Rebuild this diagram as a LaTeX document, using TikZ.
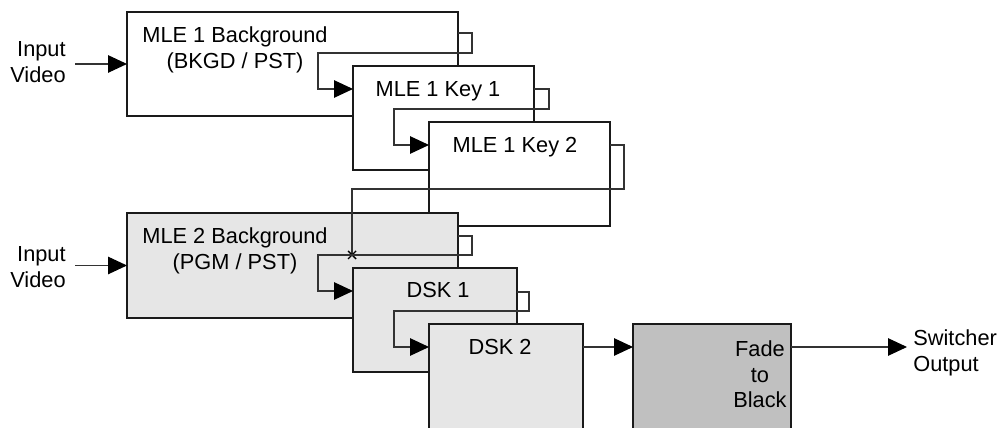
\documentclass[tikz,border=0pt]{standalone}
\usepackage{fontspec}
\setmainfont{Liberation Sans}
\usetikzlibrary{arrows.meta,calc}
\definecolor{boxline}{HTML}{1A1A1A}
\definecolor{wireline}{HTML}{333333}
\definecolor{lightfill}{HTML}{E6E6E6}
\definecolor{darkfill}{HTML}{C0C0C0}
\begin{document}
\begin{tikzpicture}[x=0.02cm,y=-0.02cm,
  blk/.style={draw=boxline, line width=1.1pt, fill=white, anchor=north west, inner sep=0pt, outer sep=0pt},
  lbl/.style={font=\fontsize{12.4}{14.5}\selectfont, inner sep=0pt, anchor=base, text=black},
  wire/.style={draw=wireline, line width=0.65pt},
  arr/.style={wire, -{Triangle[length=0.38cm,width=0.35cm,color=black]}},
]
\useasboundingbox (0,0) rectangle (1000,428);
\clip (0,0) rectangle (1000,428);
\fill[white] (0,0) rectangle (1000,428);

% blocks
\node[blk, minimum width=6.62cm, minimum height=2.08cm] (bg1) at (127,12) {};
\node[blk, minimum width=3.62cm, minimum height=2.08cm] (key1) at (353,66) {};
\node[blk, minimum width=3.62cm, minimum height=2.08cm] (key2) at (429,122) {};
\node[blk, fill=lightfill, minimum width=6.62cm, minimum height=2.10cm] (bg2) at (127,213) {};
\node[blk, fill=lightfill, minimum width=3.28cm, minimum height=2.08cm] (dsk1) at (353,268) {};
\node[blk, fill=lightfill, minimum width=3.08cm, minimum height=2.6cm] (dsk2) at (429,324) {};
\node[blk, fill=darkfill, minimum width=3.16cm, minimum height=2.6cm] (ftb) at (633,324) {};

% labels
\node[lbl] (bg1t) at (235,43) {\begin{tabular}[t]{@{}c@{}}MLE 1 Background\\(BKGD / PST)\end{tabular}};
\node[lbl] (key1t) at (438,97) {MLE 1 Key 1};
\node[lbl] (key2t) at (515,153) {MLE 1 Key 2};
\node[lbl] (bg2t) at (235,244) {\begin{tabular}[t]{@{}c@{}}MLE 2 Background\\(PGM / PST)\end{tabular}};
\node[lbl] (dsk1t) at (438,298) {DSK 1};
\node[lbl] (dsk2t) at (500,355) {DSK 2};
\node[lbl] (ftbt) at (760,357) {\begin{tabular}[t]{@{}c@{}}Fade\\to\\Black\end{tabular}};
\node[lbl, anchor=base east] (in1) at (66,57) {\begin{tabular}[t]{@{}r@{}}Input\\Video\end{tabular}};
\node[lbl, anchor=base east] (in2) at (66,262) {\begin{tabular}[t]{@{}r@{}}Input\\Video\end{tabular}};
\node[lbl, anchor=base west] (out) at (913,346) {\begin{tabular}[t]{@{}l@{}}Switcher\\Output\end{tabular}};

% inputs
\draw[arr] ($(in1.east |- bg1.west)+(9,0)$) -- (bg1.west);
\draw[arr] ($(in2.east |- bg2.west)+(9,0)$) -- (bg2.west);

% loops
\draw[arr] (bg1.east |- 0,33) -- (472,33) -- (472,53) -- (318,53) -- (318,89) -- (key1.west |- 0,89);
\draw[arr] (key1.east |- 0,89) -- (549,89) -- (549,109) -- (394,109) -- (394,145) -- (key2.west |- 0,145);
\coordinate (xm) at (352,255);
\draw[wire] (key2.east |- 0,145) -- (624,145) -- (624,189) -- (352,189) -- (xm);
\draw[wire, line width=0.8pt, draw=black] ($(xm)+(-4,-4)$) -- ($(xm)+(4,4)$) ($(xm)+(-4,4)$) -- ($(xm)+(4,-4)$);
\draw[arr] (bg2.east |- 0,236) -- (472,236) -- (472,255) -- (318,255) -- (318,291) -- (dsk1.west |- 0,291);
\draw[arr] (dsk1.east |- 0,292) -- (529,292) -- (529,311) -- (394,311) -- (394,347) -- (dsk2.west |- 0,347);

% output chain
\draw[arr] (dsk2.east |- 0,347) -- (ftb.west |- 0,347);
\draw[arr] (ftb.east |- 0,347) -- ($(out.west |- 0,347)+(-6,0)$);
\end{tikzpicture}
\end{document}
